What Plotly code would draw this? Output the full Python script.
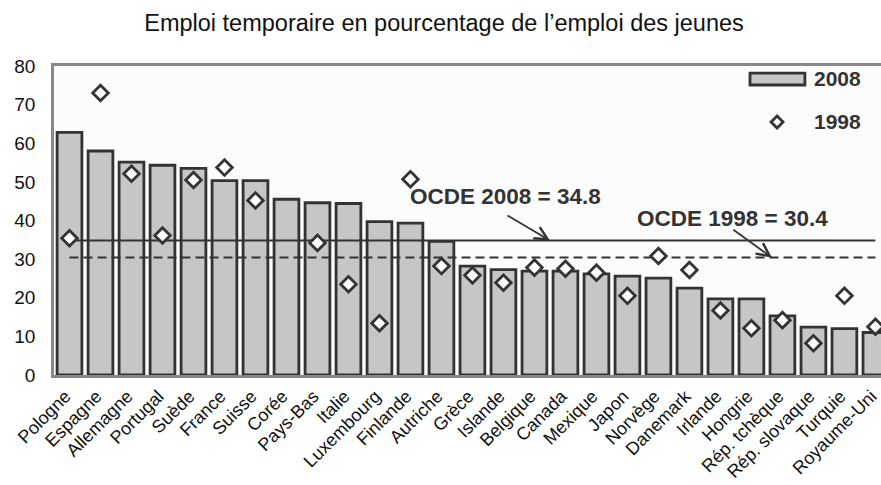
import plotly.graph_objects as go

countries = ["Pologne", "Espagne", "Allemagne", "Portugal", "Suède", "France", "Suisse", "Corée",
             "Pays-Bas", "Italie", "Luxembourg", "Finlande", "Autriche", "Grèce", "Islande",
             "Belgique", "Canada", "Mexique", "Japon", "Norvège", "Danemark", "Irlande", "Hongrie",
             "Rép. tchèque", "Rép. slovaque", "Turquie", "Royaume-Uni"]
v2008 = [62.8, 58.0, 55.1, 54.3, 53.5, 50.3, 50.3, 45.5, 44.6, 44.4, 39.7, 39.3, 34.6, 28.2, 27.3,
         26.9, 26.9, 26.2, 25.6, 25.1, 22.5, 19.7, 19.7, 15.3, 12.4, 12.0, 11.0]
v1998 = [35.4, 73.0, 52.1, 36.1, 50.5, 53.7, 45.2, None, 34.2, 23.5, 13.4, 50.7, 28.2, 25.8, 23.9,
         27.8, 27.5, 26.5, 20.5, 30.8, 27.2, 16.7, 12.1, 14.2, 8.2, 20.5, 12.5]
oecd2008 = 34.8
oecd1998 = 30.4
label2008 = "OCDE 2008 = 34.8"
label1998 = "OCDE 1998 = 30.4"
title = "Emploi temporaire en pourcentage de l’emploi des jeunes"

FONT = "Liberation Sans, Arial, sans-serif"
DARK = "#333333"

fig = go.Figure()
fig.add_trace(go.Bar(x=countries, y=v2008, name="2008", marker=dict(color="#c6c6c6",
                     line=dict(color=DARK, width=2.8)), showlegend=False))
fig.add_trace(go.Scatter(x=[countries[0], countries[-1]], y=[oecd2008, oecd2008], mode="lines",
                         line=dict(color=DARK, width=2), showlegend=False, hoverinfo="skip"))
fig.add_trace(go.Scatter(x=[countries[0], countries[-1]], y=[oecd1998, oecd1998], mode="lines",
                         line=dict(color=DARK, width=2, dash="9px,5px"), showlegend=False, hoverinfo="skip"))
fig.add_trace(go.Scatter(x=countries, y=v1998, mode="markers", name="1998",
                         marker=dict(symbol="diamond", size=12, color="white",
                                     line=dict(color=DARK, width=2.8)), showlegend=False))

# labels and arrows for the OECD averages
fig.add_annotation(x=14.06, y=46.1, text="<b>" + label2008 + "</b>", showarrow=False,
                   font=dict(family=FONT, size=22.5, color=DARK))
fig.add_annotation(x=21.39, y=40.6, text="<b>" + label1998 + "</b>", showarrow=False,
                   font=dict(family=FONT, size=22.5, color=DARK))
fig.add_annotation(x=15.5, y=oecd2008, ax=-44, ay=-26, text="", showarrow=True,
                   arrowhead=5, arrowsize=1.4, arrowwidth=1.8, arrowcolor=DARK)
fig.add_annotation(x=22.66, y=oecd1998, ax=-40, ay=-29, text="", showarrow=True,
                   arrowhead=5, arrowsize=1.4, arrowwidth=1.8, arrowcolor=DARK)

# custom legend
fig.add_shape(type="rect", xref="paper", yref="paper", x0=0.8416, x1=0.908, y0=0.9385, y1=0.977,
              fillcolor="#c6c6c6", line=dict(color=DARK, width=2.8))
fig.add_shape(type="path", xref="paper", yref="paper", xsizemode="pixel", ysizemode="pixel",
              xanchor=0.8743, yanchor=0.8188, path="M 0 6 L 6 0 L 0 -6 L -6 0 Z",
              fillcolor="white", line=dict(color=DARK, width=2.8))
fig.add_annotation(xref="paper", yref="paper", x=0.9165, y=0.958, xanchor="left", yanchor="middle",
                   text="<b>2008</b>", showarrow=False, font=dict(family=FONT, size=21, color=DARK))
fig.add_annotation(xref="paper", yref="paper", x=0.9165, y=0.8188, xanchor="left", yanchor="middle",
                   text="<b>1998</b>", showarrow=False, font=dict(family=FONT, size=21, color=DARK))

fig.update_layout(
    width=881, height=485,
    margin=dict(l=54, r=0, t=66, b=110),
    paper_bgcolor="white", plot_bgcolor="#fcfcfc",
    bargap=0.2,
    title=dict(text=title, x=0.504, xref="container", xanchor="center", y=0.953, yanchor="middle",
               font=dict(family=FONT, size=23.5, color="#111111"), automargin=False),
    font=dict(family=FONT, color="#111111"),
)
fig.update_xaxes(range=[-0.5, 26.18], showline=True, linecolor="#888888", linewidth=2.5, mirror=True,
                 ticks="", tickangle=-45, tickfont=dict(family=FONT, size=18, color="#111111"),
                 ticklabelstandoff=1, ticklabelshift=-4, showgrid=False, automargin=False)
fig.update_yaxes(range=[0, 80], dtick=10, showline=True, linecolor="#888888", linewidth=2.5,
                 ticks="", showgrid=False, zeroline=False, ticklabelstandoff=12, automargin=False,
                 tickfont=dict(family=FONT, size=19, color="#111111"))

fig.write_html("out.html", config={"displayModeBar": False},
               post_script="document.body.style.margin='0';document.body.style.overflow='hidden';")
